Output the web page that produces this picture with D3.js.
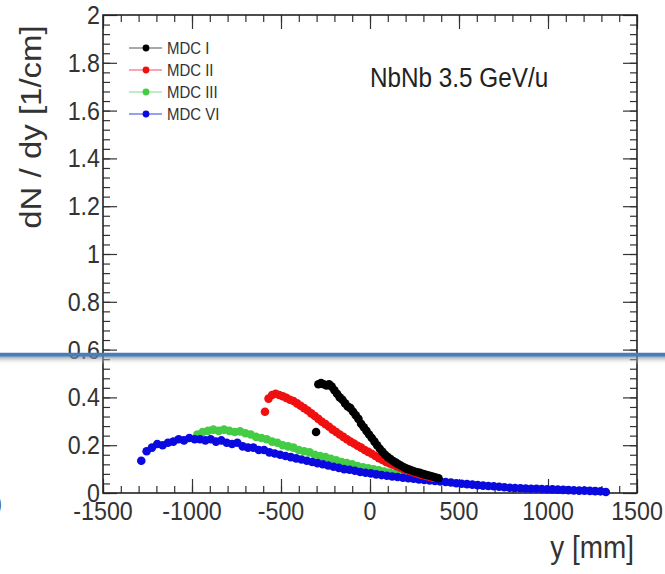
<!DOCTYPE html>
<html>
<head>
<meta charset="utf-8">
<script src="https://cdn.jsdelivr.net/npm/d3@7"></script>
<style>
  html, body { margin: 0; padding: 0; background: #fff; }
  svg { display: block; }
  text { font-family: "Liberation Sans", Arial, sans-serif; }
</style>
</head>
<body>
<svg id="chart" width="665" height="574"></svg>
<script>
// dN/dy distributions of the four MDC planes, NbNb at 3.5 GeV/u
const seriesNames = ["MDC I", "MDC II", "MDC III", "MDC VI"];
const seriesColors = ["#000000", "#f01010", "#44cc44", "#0a0ae0"];
const legendLineColors = ["#555555", "#f05060", "#80d890", "#3040e0"];

// histogram bins: first bin centre [mm] and bin width [mm]
const mdc1Start = -290, mdc1Step = 15;
const mdc1Values = [0.455, 0.46, 0.455, 0.45, 0.455, 0.445, 0.43, 0.415, 0.40, 0.39,
  0.375, 0.362, 0.355, 0.34, 0.325, 0.31, 0.29, 0.275, 0.26, 0.245,
  0.23, 0.215, 0.20, 0.185, 0.172, 0.16, 0.15, 0.142, 0.134, 0.127,
  0.12, 0.114, 0.108, 0.102, 0.098, 0.094, 0.09, 0.087, 0.084, 0.08,
  0.077, 0.074, 0.071, 0.068, 0.065, 0.062];
// isolated first MDC I point
const mdc1Extra = [[-303, 0.255]];

const mdc2Start = -590, mdc2Step = 20;
const mdc2Values = [0.34, 0.395, 0.41, 0.415, 0.41, 0.405, 0.398, 0.39, 0.385, 0.375,
  0.365, 0.355, 0.345, 0.333, 0.322, 0.31, 0.298, 0.288, 0.277, 0.265,
  0.255, 0.245, 0.235, 0.225, 0.215, 0.207, 0.198, 0.19, 0.18, 0.172,
  0.164, 0.155, 0.146, 0.138, 0.13, 0.124, 0.118, 0.112, 0.106, 0.10,
  0.095, 0.09, 0.085, 0.08, 0.076, 0.072, 0.068, 0.064];

const mdc3Start = -970, mdc3Step = 30;
const mdc3Values = [0.245, 0.255, 0.26, 0.265, 0.26, 0.265, 0.26, 0.255, 0.258, 0.25,
  0.245, 0.235, 0.23, 0.225, 0.215, 0.21, 0.20, 0.195, 0.19, 0.18,
  0.175, 0.17, 0.16, 0.155, 0.15, 0.143, 0.137, 0.13, 0.125, 0.12,
  0.113, 0.108, 0.103, 0.099, 0.095, 0.09, 0.086, 0.082, 0.078, 0.074,
  0.07, 0.066];

const mdc6Start = -1285, mdc6Step = 30;
const mdc6Values = [0.135, 0.175, 0.19, 0.205, 0.20, 0.21, 0.215, 0.225, 0.22, 0.23,
  0.225, 0.225, 0.22, 0.225, 0.215, 0.22, 0.21, 0.205, 0.21, 0.195,
  0.19, 0.19, 0.18, 0.18, 0.17, 0.165, 0.16, 0.155, 0.15, 0.145,
  0.14, 0.135, 0.13, 0.125, 0.12, 0.115, 0.11, 0.105, 0.10, 0.097,
  0.093, 0.088, 0.085, 0.082, 0.078, 0.075, 0.072, 0.069, 0.067, 0.064,
  0.062, 0.06, 0.057, 0.055, 0.052, 0.05, 0.048, 0.046, 0.044, 0.041,
  0.039, 0.037, 0.035, 0.033, 0.031, 0.029, 0.028, 0.026, 0.024, 0.022,
  0.021, 0.02, 0.019, 0.018, 0.018, 0.017, 0.016, 0.015, 0.014, 0.013,
  0.012, 0.011, 0.01, 0.01, 0.009, 0.008, 0.007, 0.004];

const xTickValues = [-1500, -1000, -500, 0, 500, 1000, 1500];
const yTickValues = [0, 0.2, 0.4, 0.6, 0.8, 1, 1.2, 1.4, 1.6, 1.8, 2];
const xTitle = "y [mm]";
const yTitle = "dN / dy [1/cm]";
const plotLabel = "NbNb 3.5 GeV/u";

const svg = d3.select("#chart");
const W = 665, H = 574;
const mLeft = 103, mRight = 637, mTop = 15, mBottom = 493;

const x = d3.scaleLinear().domain([-1500, 1500]).range([mLeft, mRight]);
const y = d3.scaleLinear().domain([0, 2]).range([mBottom, mTop]);

const toPoints = (start, step, vals) => vals.map((v, i) => [start + i * step, v]);
const series = [
  toPoints(mdc1Start, mdc1Step, mdc1Values).concat(mdc1Extra),
  toPoints(mdc2Start, mdc2Step, mdc2Values),
  toPoints(mdc3Start, mdc3Step, mdc3Values),
  toPoints(mdc6Start, mdc6Step, mdc6Values)
];

svg.append("rect").attr("width", W).attr("height", H).attr("fill", "#fff");

// axes with inward ticks on all four sides
const xMinor = d3.range(-1500, 1501, 100);
const yMinor = d3.range(0, 50).map(i => i * 0.04);

function tickAxis(axisFn, scale, vals, size, g) {
  const a = axisFn(scale).tickValues(vals).tickSizeInner(size).tickSizeOuter(0).tickFormat("");
  g.call(a);
  g.select(".domain").remove();
  g.selectAll("line").attr("stroke", "#333").attr("stroke-width", 1.2);
  return g;
}
const gB = svg.append("g").attr("transform", `translate(0,${mBottom})`);
tickAxis(d3.axisBottom, x, xMinor, -7, gB.append("g"));
tickAxis(d3.axisBottom, x, xTickValues, -14, gB.append("g"));
const gT = svg.append("g").attr("transform", `translate(0,${mTop})`);
tickAxis(d3.axisTop, x, xMinor, -7, gT.append("g"));
tickAxis(d3.axisTop, x, xTickValues, -14, gT.append("g"));
const gL = svg.append("g").attr("transform", `translate(${mLeft},0)`);
tickAxis(d3.axisLeft, y, yMinor, -7, gL.append("g"));
tickAxis(d3.axisLeft, y, yTickValues, -14, gL.append("g"));
const gR = svg.append("g").attr("transform", `translate(${mRight},0)`);
tickAxis(d3.axisRight, y, yMinor, -7, gR.append("g"));
tickAxis(d3.axisRight, y, yTickValues, -14, gR.append("g"));

// tick labels
const fmt = d => (d === 0 ? "0" : d3.format("")(+d.toFixed(1)));
svg.append("g").selectAll("text").data(yTickValues).join("text")
  .attr("transform", d => `translate(100,${y(d) + 9}) scale(0.93,1)`)
  .attr("text-anchor", "end")
  .attr("font-size", 25).attr("fill", "#333")
  .text(fmt);
svg.append("g").selectAll("text").data(xTickValues).join("text")
  .attr("transform", d => `translate(${x(d)},520) scale(0.93,1)`)
  .attr("text-anchor", "middle")
  .attr("font-size", 25).attr("fill", "#333")
  .text(d => String(d));

// frame
svg.append("rect")
  .attr("x", mLeft).attr("y", mTop).attr("width", mRight - mLeft).attr("height", mBottom - mTop)
  .attr("fill", "none").attr("stroke", "#222").attr("stroke-width", 1.6);

// titles
svg.append("text")
  .attr("transform", "translate(41,127) rotate(-90) scale(1,0.88)")
  .attr("text-anchor", "middle").attr("font-size", 33).attr("fill", "#333")
  .text(yTitle);
svg.append("text")
  .attr("transform", "translate(634,558) scale(0.9,1)")
  .attr("text-anchor", "end").attr("font-size", 31).attr("fill", "#333")
  .text(xTitle);
svg.append("text")
  .attr("transform", "translate(370,87) scale(0.9,1)")
  .attr("font-size", 27).attr("fill", "#222")
  .text(plotLabel);

// data points: green, blue, red, black
const drawOrder = [2, 3, 1, 0];
drawOrder.forEach(k => {
  svg.append("g").selectAll("circle").data(series[k]).join("circle")
    .attr("cx", d => x(d[0])).attr("cy", d => y(d[1]))
    .attr("r", 4.3).attr("fill", seriesColors[k]);
});

// legend
const legend = svg.append("g");
seriesNames.forEach((name, i) => {
  const ly = 48 + i * 22;
  legend.append("line").attr("x1", 129).attr("x2", 162).attr("y1", ly).attr("y2", ly)
    .attr("stroke", legendLineColors[i]).attr("stroke-width", 1.2);
  legend.append("circle").attr("cx", 146).attr("cy", ly).attr("r", 3.4).attr("fill", seriesColors[i]);
  legend.append("text").attr("transform", `translate(167,${ly + 6}) scale(0.88,1)`)
    .attr("font-size", 17).attr("fill", "#333").text(name);
});

// horizontal marker line across the figure, with soft shadow
const defs = svg.append("defs");
const grad = defs.append("linearGradient").attr("id", "shade").attr("x1", 0).attr("x2", 0).attr("y1", 0).attr("y2", 1);
grad.append("stop").attr("offset", "0%").attr("stop-color", "#888").attr("stop-opacity", 0.7);
grad.append("stop").attr("offset", "100%").attr("stop-color", "#fff").attr("stop-opacity", 0);
const lineY = y(0.578);
svg.append("rect").attr("x", 0).attr("y", lineY + 2).attr("width", W).attr("height", 8).attr("fill", "url(#shade)");
svg.append("line").attr("x1", 0).attr("x2", W).attr("y1", lineY).attr("y2", lineY)
  .attr("stroke", "#4a7cb8").attr("stroke-width", 4);

// clipped glyph at the left edge
svg.append("text").attr("x", -6).attr("y", 512).attr("font-size", 25).attr("fill", "#555").text(")");
</script>
</body>
</html>
